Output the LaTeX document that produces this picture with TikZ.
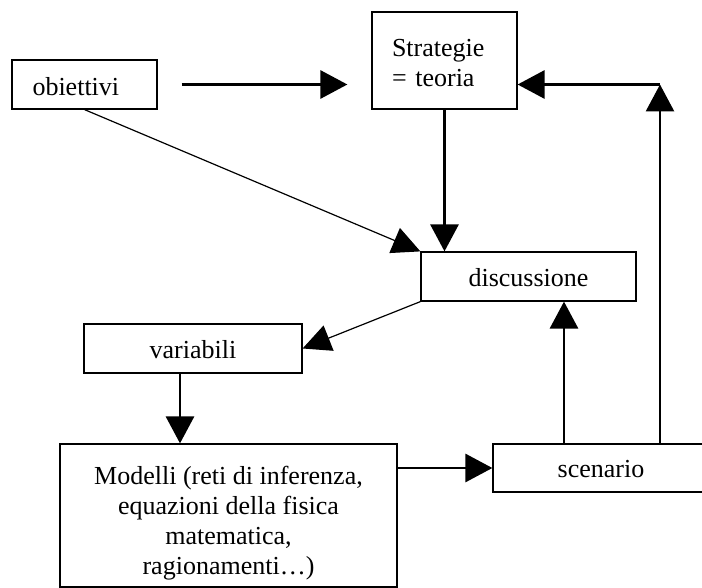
\documentclass[tikz,border=0pt]{standalone}
\usepackage{fontspec}
\setmainfont{Liberation Serif}
\usetikzlibrary{arrows.meta}

% lower a box's contents while keeping its reported height and depth
\newcommand{\dropby}[2]{\raisebox{-#1}[\height][\depth]{#2}}

\tikzset{
  box/.style={draw, line width=1.2pt, inner sep=0pt, font=\fontsize{26}{30}\selectfont},
  thickarrow/.style={line width=2.9pt, -{Triangle[length=27pt, width=28pt]}},
  thinarrow/.style={line width=1.2pt, -{Triangle[length=28pt, width=27pt]}}
}

\begin{document}
\begin{tikzpicture}[x=1pt, y=-1pt]
  \path[use as bounding box] (0,0) rectangle (702,588);

  % boxes
  \node[box, minimum width=145pt, minimum height=49pt, text width=104pt, inner xsep=20.5pt, align=left]
    (obj) at (84.5,84.5) {\dropby{2pt}{obiettivi}};
  \node[box, minimum width=145pt, minimum height=97pt, text width=105pt, inner xsep=20pt, align=left]
    (strat) at (444.5,60.5) {\dropby{3pt}{\parbox{105pt}{Strategie\\= teoria}}};
  \node[box, minimum width=215pt, minimum height=49pt]
    (disc) at (528.5,276.5) {\dropby{1pt}{discussione}};
  \node[box, minimum width=218pt, minimum height=49pt]
    (var) at (193,348.5) {\dropby{1pt}{variabili}};
  \node[box, minimum width=337pt, minimum height=143pt, align=center]
    (mod) at (228.5,515.5) {\dropby{8pt}{\parbox{330pt}{\centering Modelli (reti di inferenza,\\ equazioni della fisica\\ matematica,\\ ragionamenti…)}}};
  \node[box, minimum width=216pt, minimum height=48pt]
    (scen) at (601,468) {\dropby{1pt}{scenario}};

  % corner where the feedback line turns towards the strategies
  \coordinate (turn) at ([xshift=59pt]scen.north |- obj.east);

  % connectors
  \draw[thickarrow, shorten <=24pt, shorten >=24pt] (obj.east) -- (strat.west |- obj.east);
  \draw[thickarrow] (strat.south) -- (strat.south |- disc.north);
  \draw[thinarrow] (obj.south) -- (disc.north west);
  \draw[thinarrow] (disc.south west) -- (var.east);
  \draw[thickarrow] ([xshift=-13pt]var.south) -- ([xshift=-13pt]var.south |- mod.north);
  \draw[thickarrow] (mod.east |- scen.west) -- (scen.west);
  \draw[thickarrow] ([xshift=-37pt]scen.north) -- ([xshift=-37pt]scen.north |- disc.south);
  \draw[thickarrow] ([xshift=59pt]scen.north) -- (turn);
  \draw[thickarrow] (turn) -- (turn -| strat.east);
\end{tikzpicture}
\end{document}
